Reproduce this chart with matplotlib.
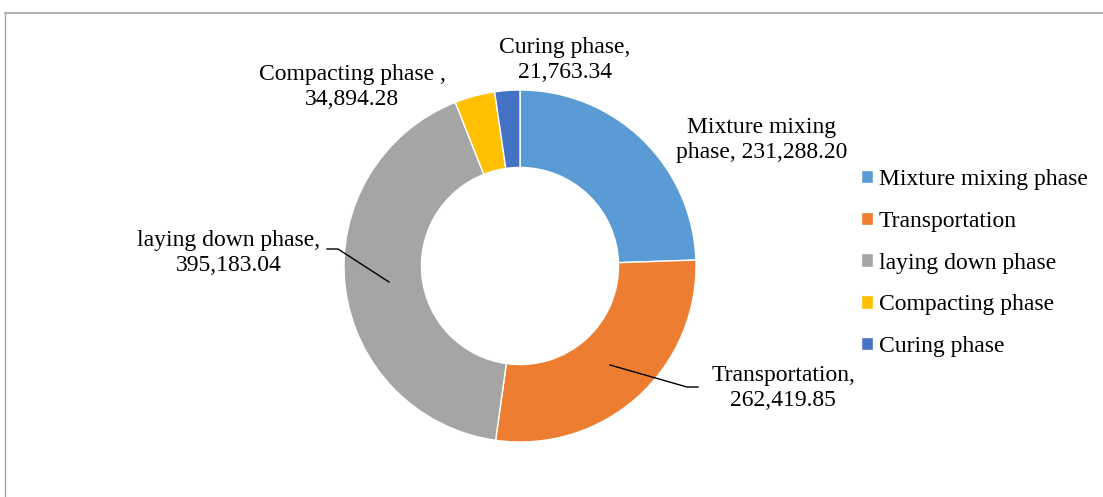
import matplotlib.pyplot as plt
from matplotlib.lines import Line2D

plt.rcParams['font.family'] = ['Liberation Serif', 'DejaVu Serif']

phases = ['Mixture mixing phase', 'Transportation', 'laying down phase',
          'Compacting phase', 'Curing phase']
label_names = ['Mixture mixing\nphase', 'Transportation', 'laying down phase',
               'Compacting phase ', 'Curing phase']
energy = [231288.20, 262419.85, 395183.04, 34894.28, 21763.34]
colors = ['#5B9BD5', '#ED7D31', '#A5A5A5', '#FFC000', '#4472C4']

W, H = 1103, 497
fig = plt.figure(figsize=(W / 100, H / 100), dpi=100)
ax = fig.add_axes([0, 0, 1, 1])
ax.set_xlim(0, W)
ax.set_ylim(0, H)
ax.set_aspect('equal')
ax.axis('off')

# pixel helper: image y (top-down) -> data y
def py(y):
    return H - y

cx, cy, r = 520, py(266), 176
wedges, _ = ax.pie(energy, colors=colors, startangle=90, counterclock=False,
                   center=(cx, cy), radius=r,
                   wedgeprops=dict(width=r * 0.44, edgecolor='white', linewidth=1))
ax.set_xlim(0, W)
ax.set_ylim(0, H)

# data labels
lab_pos = [(762, 140), (783, 388), (229, 253), (352, 87), (565, 60)]
for name, val, (x, y) in zip(label_names, energy, lab_pos):
    if '\n' in name:
        txt = f'{name}, {val:,.2f}'
    else:
        txt = f'{name},\n{val:,.2f}'
    ax.text(x, py(y), txt, ha='center', va='center', fontsize=17,
            linespacing=1.25, color='black')

# leader lines
ax.add_line(Line2D([327, 338, 389], [py(249), py(249), py(282)], color='black', lw=1))
ax.add_line(Line2D([610, 687, 698], [py(365), py(387), py(387)], color='black', lw=1))

# legend
ax.legend(wedges, phases, loc='upper left', bbox_to_anchor=(861 / W, 1 - 169 / H),
          frameon=False, fontsize=17, handlelength=0.5, handleheight=0.5,
          handletextpad=0.25, labelspacing=0.88, borderpad=0, borderaxespad=0)

# chart border (left and top visible)
fig.add_artist(Line2D([4.5 / W, 4.5 / W], [0, 1 - 13 / H], transform=fig.transFigure,
                      color='#A6A6A6', lw=1))
fig.add_artist(Line2D([4.5 / W, 1], [1 - 13 / H, 1 - 13 / H], transform=fig.transFigure,
                      color='#A6A6A6', lw=1.2))

fig.savefig('out.png', dpi=100)
